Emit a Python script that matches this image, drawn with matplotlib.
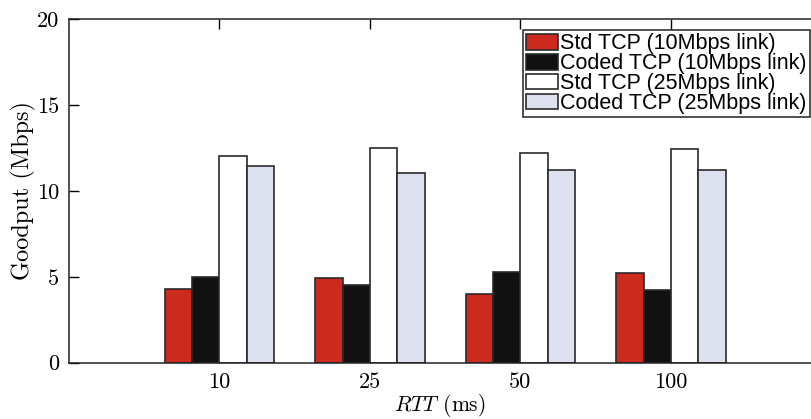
import matplotlib
matplotlib.use("Agg")
import matplotlib.pyplot as plt
import numpy as np

rtt_labels = ["10", "25", "50", "100"]
std_10 = [4.3, 4.95, 4.0, 5.2]
coded_10 = [5.0, 4.5, 5.25, 4.25]
std_25 = [12.05, 12.5, 12.2, 12.45]
coded_25 = [11.45, 11.05, 11.2, 11.25]
series_labels = ["Std TCP (10Mbps link)", "Coded TCP (10Mbps link)",
                 "Std TCP (25Mbps link)", "Coded TCP (25Mbps link)"]
colors = ["#cc2a1f", "#111111", "#ffffff", "#dde0ee"]

plt.rcParams["mathtext.fontset"] = "cm"

fig = plt.figure(figsize=(8.12, 4.19), dpi=100)
ax = fig.add_axes([69/812, 1-362.5/419, 5*150.5/812, (362.5-19.5)/419])

x = np.arange(1, len(rtt_labels)+1)
w = 0.182
data = [std_10, coded_10, std_25, coded_25]
handles = []
for i, (vals, c, lab) in enumerate(zip(data, colors, series_labels)):
    h = ax.bar(x + (i-1.5)*w, vals, width=w, color=c, edgecolor="#2a2a2a",
               linewidth=1.2, label=lab, zorder=2)
    handles.append(h)

ax.set_xlim(0, 5)
ax.set_ylim(0, 20)
ax.set_xticks(x)
ax.set_xticklabels(rtt_labels)
ax.set_yticks([0, 5, 10, 15, 20])
ax.tick_params(direction="in", top=True, right=True, length=7, width=1,
               labelsize=16, pad=7)
for lbl in ax.get_xticklabels() + ax.get_yticklabels():
    lbl.set_fontfamily("cmr10")
for s in ax.spines.values():
    s.set_linewidth(1.1)
    s.set_color("#222222")

ax.set_xlabel(r"$RTT$ (ms)", fontsize=15.5, fontfamily="cmr10", va="center")
ax.xaxis.set_label_coords(0.493, -(405 - 362.5) / 343)
ax.set_ylabel("Goodput (Mbps)", fontsize=17.5, fontfamily="cmr10", labelpad=1)

leg = fig.legend(handles=handles, labels=series_labels, loc="upper right",
                 bbox_to_anchor=(810/812, 1-30/419), bbox_transform=fig.transFigure,
                 borderaxespad=0, fancybox=False, framealpha=1,
                 edgecolor="#222222", prop={"family": "Liberation Sans", "size": 15.5},
                 handlelength=1.5, handleheight=0.75, handletextpad=0.1,
                 labelspacing=-0.05, borderpad=0.15)
leg.get_frame().set_linewidth(1.1)

fig.savefig("out.png", dpi=100)
